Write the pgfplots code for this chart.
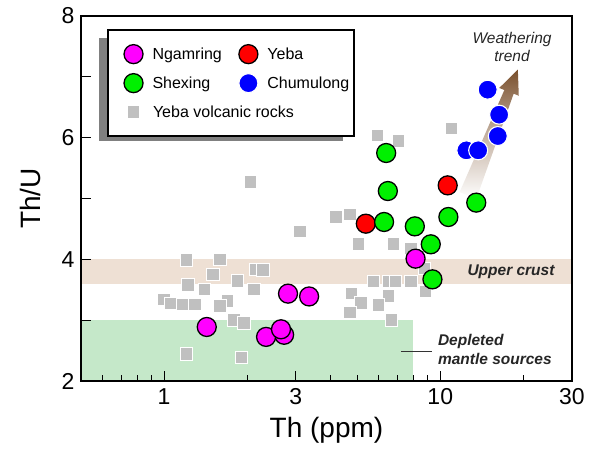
\documentclass[border=0pt]{standalone}
\usepackage{pgfplots}
\pgfplotsset{compat=1.18}
\usepackage{fontspec}
\setmainfont{Liberation Sans}
\usetikzlibrary{calc}

\definecolor{crust}{RGB}{238,224,212}
\definecolor{mantle}{RGB}{197,232,201}
\definecolor{sq}{RGB}{192,192,192}
\definecolor{brownarrow}{RGB}{122,80,45}
\definecolor{mygreen}{RGB}{0,240,0}
\definecolor{mymagenta}{RGB}{255,0,255}
\definecolor{myred}{RGB}{255,0,0}
\definecolor{myblue}{RGB}{0,0,255}

\begin{document}
\begin{tikzpicture}
\begin{axis}[
  at={(81pt,82pt)}, anchor=south west,
  scale only axis, width=491pt, height=365pt,
  xmode=log, xmin=0.5, xmax=30, ymin=2, ymax=8,
  xtick={1,3,10,30}, xticklabels={1,3,10,30},
  minor xtick={0.6,0.7,0.8,0.9,2,4,5,6,7,8,9,20},
  ytick={2,3,4,5,6,7,8}, yticklabels={2,,4,,6,,8},
  tick pos=left, tick align=inside,
  major tick length=10pt, minor tick length=6pt,
  every tick/.style={black, line width=1pt},
  axis line style={line width=1.6pt},
  /pgf/number format/assume math mode=true,
  tick label style={font=\fontsize{23}{26}\selectfont},
  xticklabel style={yshift=-4pt},
  yticklabel style={xshift=-3pt},
  label style={font=\fontsize{28}{32}\selectfont},
  xlabel={Th (ppm)}, ylabel={Th/U},
  xlabel shift=6pt, ylabel shift=14pt,
  axis on top,
  legend columns=2,
  legend cell align=left,
  legend image code/.code={\draw[#1] plot coordinates {(10pt,0pt)}; \path[draw=none,fill=none] (-11pt,-10.5pt) rectangle (20pt,10.5pt);},
  legend style={at={(0.052,0.964)}, anchor=north west, draw=black, line width=2pt,
    font=\fontsize{16}{19}\selectfont, inner xsep=5pt, inner ysep=13.5pt,
    nodes={inner sep=0pt}, row sep=8pt,
    /tikz/every odd column/.append style={column sep=9pt},
    /tikz/every even column/.append style={column sep=5.5pt}},
]
% bands
\fill[crust] (axis cs:0.5,3.6) rectangle (axis cs:30,4.0);
\fill[mantle] (axis cs:0.5,2) rectangle (axis cs:8,3.0);
\draw[line width=1.2pt, black!80] (axis cs:7.2,2.49) -- (axis cs:9.35,2.49);

% legend shadow
\fill[black!50] (rel axis cs:0.0367,0.6575) rectangle (rel axis cs:0.534,0.940);

% weathering arrow
\coordinate (T) at (axis cs:19.1,7.12);
\coordinate (B) at (axis cs:12.6,5.05);
\coordinate (H) at ($(T)!24pt!(B)$);
\shade[top color=brownarrow, bottom color=white, middle color=brownarrow!45!white]
  ($(B)!9pt!90:(T)$) -- ($(H)!5pt!90:(T)$) -- ($(H)!10.5pt!90:(T)$) -- (T)
  -- ($(H)!10.5pt!-90:(T)$) -- ($(H)!5pt!-90:(T)$) -- ($(B)!9pt!-90:(T)$) -- cycle;

% Yeba volcanic rocks
\addplot[only marks, mark=square*, mark size=6.2pt, mark options={fill=sq, draw=white, line width=0.9pt}, forget plot] coordinates {
(1.205,3.987) (1.592,4.003) (1.505,3.752) (1.221,3.576) (1.401,3.506)
(1.839,3.642) (2.115,3.506) (2.145,3.834) (2.28,3.823) (0.997,3.342)
(1.054,3.276) (1.168,3.259) (1.291,3.259) (1.692,3.314) (1.592,3.232)
(1.789,3.002) (1.945,2.957) (1.205,2.443) (1.902,2.389)
(2.053,5.271) (3.10,4.463) (4.19,4.698) (4.71,4.742)
(5.06,4.25) (6.78,4.25) (7.84,4.18) (5.72,3.632) (6.50,3.632) (6.88,3.632)
(7.84,3.632) (8.84,3.473) (8.76,3.85) (4.77,3.44) (5.16,3.286) (6.50,3.396)
(5.98,3.248) (4.71,3.122) (6.65,3.002)
(5.93,6.04) (7.07,5.946) (10.96,6.149)
};

% Ngamring
\addplot[only marks, mark=*, mark size=9.5pt, mark options={fill=mymagenta, draw=black, line width=1.3pt}] coordinates {
(1.427,2.888) (2.72,2.76) (2.34,2.725) (2.65,2.85) (2.81,3.436) (3.35,3.39) (8.14,4.011)
};
\addlegendentry{Ngamring}
% Yeba
\addplot[only marks, mark=*, mark size=9.5pt, mark options={fill=myred, draw=black, line width=1.3pt}] coordinates {
(5.375,4.586) (10.64,5.216)
};
\addlegendentry{Yeba}
% Shexing
\addplot[only marks, mark=*, mark size=9.5pt, mark options={fill=mygreen, draw=black, line width=1.3pt}] coordinates {
(6.37,5.748) (6.46,5.123) (6.26,4.614) (8.09,4.542) (9.24,4.247) (9.37,3.671) (10.7,4.696) (13.5,4.932)
};
\addlegendentry{Shexing}
% Chumulong
\addplot[only marks, mark=*, mark size=9.5pt, mark options={fill=myblue, draw=white, line width=1.1pt}] coordinates {
(14.85,6.789) (16.34,6.378) (16.16,6.027) (12.43,5.792) (13.72,5.792)
};
\addlegendentry{Chumulong}
\addlegendimage{only marks, mark=square*, mark size=6.2pt, mark options={fill=sq, draw=white, line width=0.9pt}}
\addlegendentry{\makebox[0pt][l]{Yeba volcanic rocks}}

% annotations
\node[font=\fontsize{15.5}{18.5}\selectfont\itshape, align=center, text=black!85] at (axis cs:18.2,7.49) {Weathering\\trend};
\node[font=\fontsize{15.5}{18.5}\selectfont\bfseries\itshape, anchor=east, text=black!85] at (axis cs:26.7,3.79) {Upper crust};
\node[font=\fontsize{15.5}{18.5}\selectfont\bfseries\itshape, anchor=west, align=left, inner sep=0pt, text=black!85] at (axis cs:9.8,2.515) {Depleted\\mantle sources};
\end{axis}
\pgfresetboundingbox
\path[use as bounding box] (0,0) rectangle (592pt,463pt);
\end{tikzpicture}
\end{document}
